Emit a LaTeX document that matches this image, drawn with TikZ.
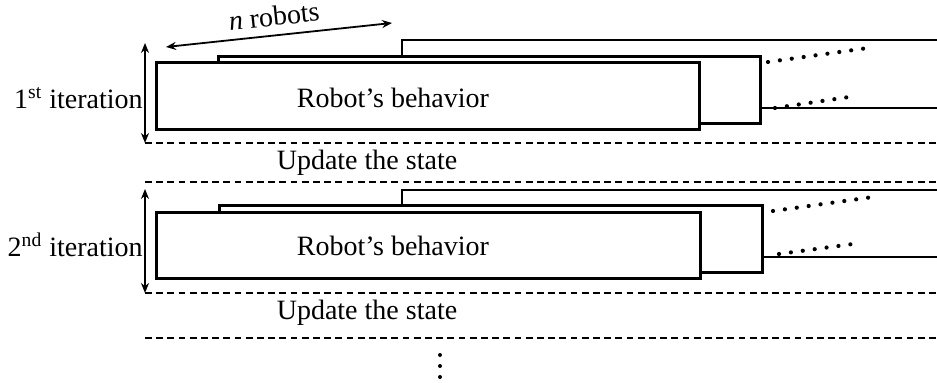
\documentclass[tikz,border=0pt]{standalone}
\usepackage{fontspec}
\setmainfont{Liberation Serif}
\usetikzlibrary{arrows.meta}
\begin{document}
\begin{tikzpicture}[x=0.5pt,y=-0.5pt,
  robotbox/.style={draw, line width=1.5pt, fill=white, inner sep=0pt, anchor=north west},
  farbox/.style={draw, line width=1.1pt, fill=white, inner sep=0pt, anchor=north west},
  lbl/.style={font=\fontsize{14}{16}\selectfont, inner sep=0pt},
  sepline/.style={line width=0.75pt, dash pattern=on 3.4pt off 2.2pt},
  dimarrow/.style={line width=0.9pt, {Stealth[length=5pt,width=4pt]}-{Stealth[length=5pt,width=4pt]}},
  moredots/.style={line width=2.1pt, line cap=round, dash pattern=on 0pt off 6pt}
]
\clip (0,0) rectangle (937,383);

% ---------- first iteration ----------
\node[farbox, minimum width=300pt, minimum height=34pt] (r3a) at (401,39) {};
\node[robotbox, minimum width=271pt, minimum height=33.5pt] (r2a) at (217,55) {};
\node[robotbox, minimum width=271.5pt, minimum height=33.5pt] (r1a) at (155,61) {};
\node[lbl] (b1) at (393,98) {Robot’s behavior};
\node[lbl, anchor=east] (it1) at (143,98) {1\textsuperscript{st} iteration};
\draw[moredots] (768,62) -- (868,48);
\draw[moredots] (775,108) -- (849,97);

\coordinate (n1) at (166,47);
\coordinate (n2) at (392,23);
\draw[dimarrow] (n1) -- (n2);
\node[lbl, rotate=6] (nr) at (274,16) {\textit{n} robots};

\coordinate (t1) at (145,43);
\coordinate (d1) at (145,143);
\coordinate (d1e) at (937,143);
\coordinate (d2) at (145,182);
\coordinate (d2e) at (937,182);
\draw[dimarrow] (t1) -- (d1);
\draw[sepline] (d1) -- (d1e);
\node[lbl] (u1) at (367,163) {Update the state};
\draw[sepline] (d2) -- (d2e);

% ---------- second iteration ----------
\node[farbox, minimum width=300pt, minimum height=33.5pt] (r3b) at (401,189) {};
\node[robotbox, minimum width=271.5pt, minimum height=33.5pt] (r2b) at (218,204) {};
\node[robotbox, minimum width=272pt, minimum height=33pt] (r1b) at (155,211) {};
\node[lbl] (b2) at (393,246) {Robot’s behavior};
\node[lbl, anchor=east] (it2) at (143,245) {2\textsuperscript{nd} iteration};
\draw[moredots] (773,211) -- (873,197);
\draw[moredots] (779,254) -- (853,244);

\coordinate (t2) at (145,189);
\coordinate (d3) at (145,293);
\coordinate (d3e) at (937,293);
\coordinate (d4) at (145,338);
\coordinate (d4e) at (937,338);
\draw[dimarrow] (t2) -- (d3);
\draw[sepline] (d3) -- (d3e);
\node[lbl] (u2) at (367,313) {Update the state};
\draw[sepline] (d4) -- (d4e);

% ---------- continuation ----------
\foreach \yy/\nm in {355/c1,366/c2,377/c3}
  \fill (440,\yy) circle (1pt) coordinate (\nm);
\end{tikzpicture}
\end{document}
